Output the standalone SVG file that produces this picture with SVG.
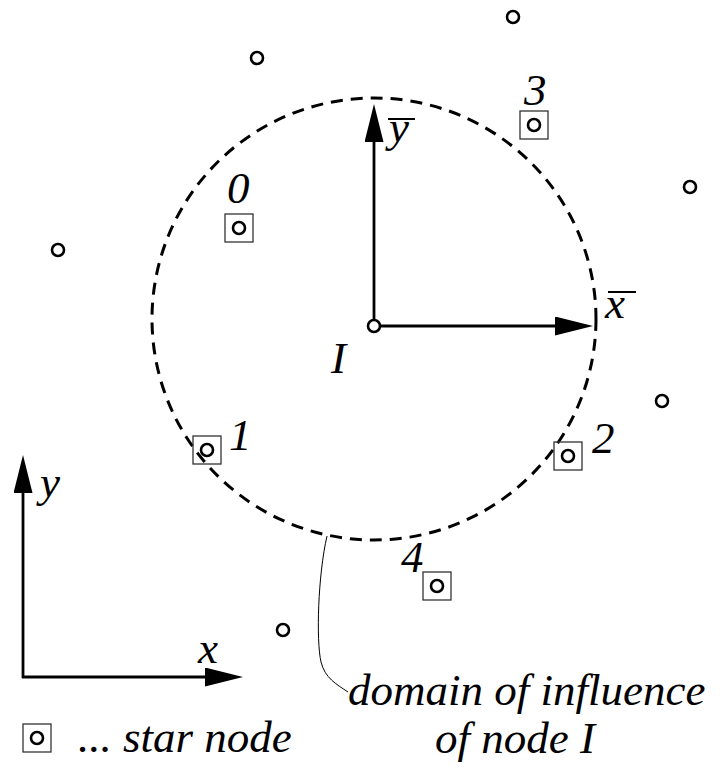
<svg xmlns="http://www.w3.org/2000/svg" width="723" height="769" viewBox="0 0 723 769">
<style>
text{font-family:'Liberation Serif','DejaVu Serif','Times New Roman',serif;font-style:italic;font-size:45px;fill:#000}
.pt{fill:#fff;stroke:#000;stroke-width:2.6}
.box{fill:none;stroke:#333;stroke-width:1.3}
.ax{stroke:#000;stroke-width:2.8;fill:none}
.bar{stroke:#000;stroke-width:2}
</style>
<defs>
<marker id="ah" viewBox="0 0 38 19" markerWidth="38" markerHeight="19" refX="28" refY="9.5" orient="auto" markerUnits="userSpaceOnUse">
<path d="M0,0 L38,9.5 L0,19 Z" fill="#000"/>
</marker>
<g id="star"><rect class="box" x="-14" y="-14" width="28" height="28"/><circle class="pt" cx="0" cy="0" r="6"/></g>
</defs>
<g id="domain">
<ellipse cx="374" cy="319" rx="222" ry="221" fill="none" stroke="#000" stroke-width="3" stroke-dasharray="12 8"/>
</g>
<g id="connectors">
<line class="ax" x1="374" y1="326" x2="374" y2="114" marker-end="url(#ah)"/>
<line class="ax" x1="374" y1="326" x2="583" y2="326" marker-end="url(#ah)"/>
<line class="ax" x1="23" y1="678" x2="23" y2="465" marker-end="url(#ah)"/>
<line class="ax" x1="22" y1="677" x2="233" y2="677" marker-end="url(#ah)"/>
<path d="M327,536 C318,575 316,640 321,662 C325,678 336,684 348,692" fill="none" stroke="#000" stroke-width="1"/>
</g>
<g id="nodeI"><circle class="pt" cx="374" cy="326" r="6"/><text x="331" y="373" font-family="Liberation Serif, serif">I</text></g>
<g id="node0"><use href="#star" x="239" y="228"/><text x="227" y="203">0</text></g>
<g id="node1"><use href="#star" x="207" y="450"/><text x="229" y="450">1</text></g>
<g id="node2"><use href="#star" x="568" y="456"/><text x="592" y="453">2</text></g>
<g id="node3"><use href="#star" x="534" y="125"/><text x="524" y="105">3</text></g>
<g id="node4"><use href="#star" x="437" y="586"/><text x="401" y="572">4</text></g>
<g id="others">
<circle class="pt" cx="513" cy="17" r="6"/>
<circle class="pt" cx="257" cy="58" r="6"/>
<circle class="pt" cx="690" cy="187" r="6"/>
<circle class="pt" cx="58" cy="250" r="6"/>
<circle class="pt" cx="662" cy="401" r="6"/>
<circle class="pt" cx="283" cy="630" r="6"/>
</g>
<g id="labels">
<text x="389" y="142">y</text>
<line class="bar" x1="388" y1="119" x2="415" y2="119"/>
<text x="605" y="318">x</text>
<line class="bar" x1="608" y1="292" x2="636" y2="292"/>
<text x="40" y="497">y</text>
<text x="198" y="663">x</text>
<text x="348" y="705">domain of influence</text>
<text x="435" y="753">of node I</text>
</g>
<g id="legend"><use href="#star" x="37" y="738"/><text x="78" y="752">... star node</text></g>
</svg>
